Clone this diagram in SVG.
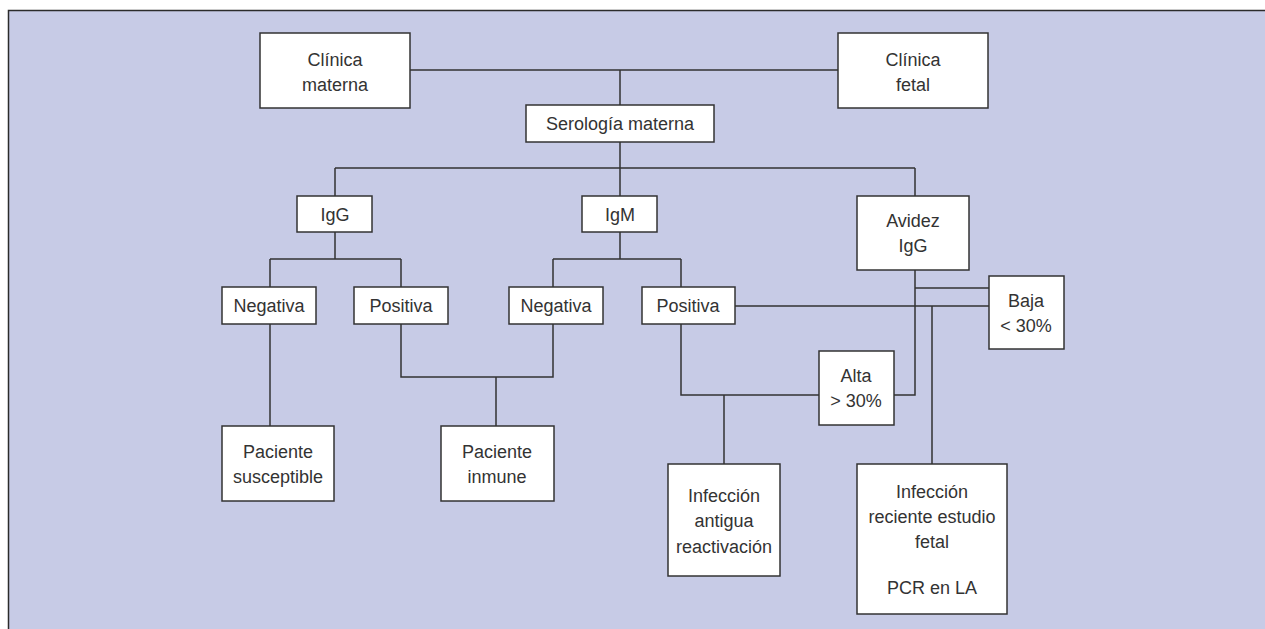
<svg xmlns="http://www.w3.org/2000/svg" width="1265" height="629" viewBox="0 0 1265 629">
<style>
.bg{fill:#c7cbe6}
.frame{stroke:#2b2b2b;stroke-width:1.5;fill:none}
.box{fill:#ffffff;stroke:#333333;stroke-width:1.5}
.ln{stroke:#333333;stroke-width:1.5;fill:none}
text{font-family:"Liberation Sans",Arial,Helvetica,sans-serif;font-size:18px;fill:#333333;text-anchor:middle}
</style>
<rect x="0" y="0" width="1265" height="629" fill="#ffffff"/>
<rect class="bg" x="8.5" y="10.5" width="1257" height="619"/>
<path class="frame" d="M8.5 629 V10.5 H1265"/>
<g id="connectors">
<path class="ln" d="M410 70 H838 M620 70 V105"/>
<path class="ln" d="M620 142 V196 M335 168 H915 M335 168 V196 M915 168 V196"/>
<path class="ln" d="M335 232 V259 M270 259 H401 M270 259 V287 M401 259 V287"/>
<path class="ln" d="M620 232 V259 M553 259 H681 M553 259 V287 M681 259 V287"/>
<path class="ln" d="M270 324 V426"/>
<path class="ln" d="M401 324 V377 H553 V324 M496 377 V426"/>
<path class="ln" d="M735 306 H989 M932 306 V464"/>
<path class="ln" d="M681 324 V395 H819 M724 395 V464"/>
<path class="ln" d="M915 270 V395 H894 M915 288 H989"/>
</g>
<g id="clinica-materna"><rect class="box" x="260" y="33" width="150" height="75"/><text x="335" y="66">Clínica</text><text x="335" y="91">materna</text></g>
<g id="clinica-fetal"><rect class="box" x="838" y="33" width="150" height="75"/><text x="913" y="66">Clínica</text><text x="913" y="91">fetal</text></g>
<g id="serologia"><rect class="box" x="526" y="105" width="188" height="37"/><text x="620" y="130">Serología materna</text></g>
<g id="igg"><rect class="box" x="297" y="196" width="75" height="36"/><text x="335" y="221">IgG</text></g>
<g id="igm"><rect class="box" x="582" y="196" width="75" height="36"/><text x="620" y="221">IgM</text></g>
<g id="avidez"><rect class="box" x="857" y="196" width="112" height="74"/><text x="913" y="227">Avidez</text><text x="913" y="252">IgG</text></g>
<g id="igg-negativa"><rect class="box" x="222" y="287" width="94" height="37"/><text x="269" y="312">Negativa</text></g>
<g id="igg-positiva"><rect class="box" x="354" y="287" width="94" height="37"/><text x="401" y="312">Positiva</text></g>
<g id="igm-negativa"><rect class="box" x="509" y="287" width="94" height="37"/><text x="556" y="312">Negativa</text></g>
<g id="igm-positiva"><rect class="box" x="642" y="287" width="93" height="37"/><text x="688" y="312">Positiva</text></g>
<g id="baja"><rect class="box" x="989" y="276" width="75" height="73"/><text x="1026" y="307">Baja</text><text x="1026" y="332">&lt; 30%</text></g>
<g id="alta"><rect class="box" x="819" y="351" width="75" height="74"/><text x="856" y="382">Alta</text><text x="856" y="407">&gt; 30%</text></g>
<g id="paciente-susceptible"><rect class="box" x="222" y="426" width="112" height="75"/><text x="278" y="458">Paciente</text><text x="278" y="483">susceptible</text></g>
<g id="paciente-inmune"><rect class="box" x="441" y="426" width="113" height="75"/><text x="497" y="458">Paciente</text><text x="497" y="483">inmune</text></g>
<g id="infeccion-antigua"><rect class="box" x="668" y="464" width="112" height="112"/><text x="724" y="502">Infección</text><text x="724" y="527">antigua</text><text x="724" y="553">reactivación</text></g>
<g id="infeccion-reciente"><rect class="box" x="857" y="464" width="150" height="150"/><text x="932" y="498">Infección</text><text x="932" y="523">reciente estudio</text><text x="932" y="548">fetal</text><text x="932" y="594">PCR en LA</text></g>
</svg>
